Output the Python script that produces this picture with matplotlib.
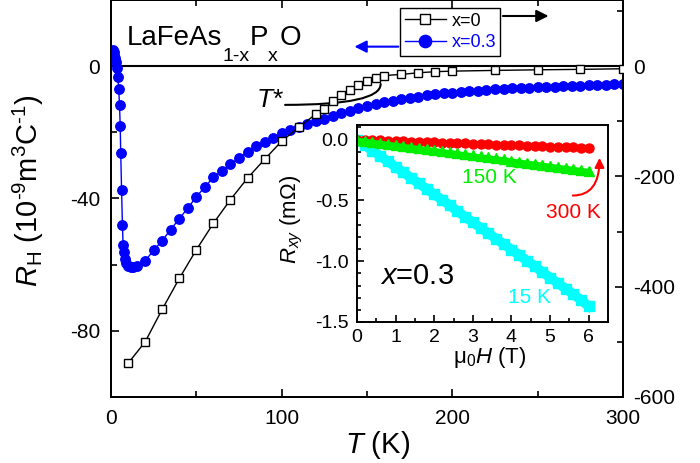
import matplotlib
matplotlib.use("Agg")
import matplotlib.pyplot as plt
from matplotlib.ticker import MultipleLocator, FormatStrFormatter

plt.rcParams['font.family'] = ['Liberation Sans', 'DejaVu Sans']
plt.rcParams['mathtext.fontset'] = 'custom'
plt.rcParams['mathtext.rm'] = 'Liberation Sans'
plt.rcParams['mathtext.it'] = 'Liberation Sans:italic'
plt.rcParams['mathtext.bf'] = 'Liberation Sans:bold'
plt.rcParams['axes.unicode_minus'] = False

# x = 0 (right axis)
T0 = [10, 20, 30, 40, 50, 60, 70, 80, 90, 100, 110, 120, 125, 130, 135, 140,
      145, 150, 155, 160, 170, 180, 190, 200, 225, 250, 275, 300]
R0 = [-539, -500, -441, -385, -333, -285, -242, -203, -169, -136, -111, -87,
      -77, -64, -53, -44, -35, -27.5, -21, -17, -15, -12, -10, -9, -7.7,
      -6.6, -5.8, -4.7]

# x = 0.3 (left axis)
T3 = [1.4, 1.6, 2.0, 2.5, 3.0, 3.5, 4.0, 4.5, 5.0, 5.4, 5.7, 6.2, 6.7, 7.1,
      7.5, 8.0, 8.8, 10.0, 11.5, 13.0, 15.0, 20, 25, 30, 35, 40, 45, 50, 55,
      60, 65, 70, 75, 80, 85, 90, 95, 100, 105, 110, 115, 120, 125, 130, 135,
      140, 145, 150, 155, 160, 165, 170, 175, 180, 185, 190, 195, 200, 205,
      210, 215, 220, 225, 230, 235, 240, 245, 250, 255, 260, 265, 270, 275,
      280, 285, 290, 295, 300]
R3 = [4.8, 4.2, 3.4, 2.4, 1.2, -0.5, -3.2, -7.0, -11.8, -18.2, -26.3, -37.5,
      -48.1, -54.0, -56.3, -58.2, -59.5, -60.4, -60.8, -60.8, -60.3, -58.8,
      -55.7, -52.7, -49.4, -46.1, -42.9, -39.5, -36.5, -33.6, -31.6, -29.7,
      -27.7, -25.8, -24.1, -22.8, -21.6, -20.3, -19.3, -18.4, -17.6, -16.7,
      -15.9, -15.0, -14.2, -13.5, -12.6, -12.0, -11.4, -10.8, -10.4, -10.0,
      -9.6, -9.2, -8.85, -8.5, -8.25, -8.0, -7.8, -7.6, -7.4, -7.2, -7.05,
      -6.9, -6.75, -6.6, -6.5, -6.4, -6.3, -6.2, -6.1, -6.0, -5.9, -5.8, -5.7,
      -5.6, -5.5, -5.4]

# inset: Rxy vs field, x = 0.3
H = [0, 0.2, 0.4, 0.6, 0.8, 1.0, 1.2, 1.4, 1.6, 1.8, 2.0, 2.2, 2.4, 2.6, 2.8,
     3.0, 3.2, 3.4, 3.6, 3.8, 4.0, 4.2, 4.4, 4.6, 4.8, 5.0, 5.2, 5.4, 5.6,
     5.8, 6.0]
Rxy_15K = [0, -0.045, -0.09, -0.135, -0.18, -0.225, -0.27, -0.315, -0.36,
           -0.405, -0.45, -0.495, -0.54, -0.59, -0.635, -0.68, -0.725, -0.77,
           -0.815, -0.86, -0.905, -0.95, -0.995, -1.04, -1.09, -1.135, -1.18,
           -1.225, -1.27, -1.32, -1.37]
Rxy_150K = [0, -0.009, -0.017, -0.026, -0.034, -0.043, -0.052, -0.06, -0.069,
            -0.077, -0.086, -0.095, -0.103, -0.112, -0.12, -0.129, -0.138,
            -0.146, -0.155, -0.163, -0.172, -0.181, -0.189, -0.198, -0.206,
            -0.215, -0.224, -0.232, -0.241, -0.249, -0.258]
Rxy_300K = [0, -0.002, -0.005, -0.007, -0.009, -0.012, -0.014, -0.016, -0.018,
            -0.021, -0.023, -0.025, -0.028, -0.03, -0.032, -0.035, -0.037,
            -0.039, -0.041, -0.044, -0.046, -0.048, -0.051, -0.053, -0.055,
            -0.058, -0.06, -0.062, -0.064, -0.067, -0.069]

fig = plt.figure(figsize=(7, 4.63), dpi=100)
ax = fig.add_axes([111/700, 66/463, 512/700, 397/463])
ax2 = ax.twinx()

ax.axhline(0, color='black', lw=1.5, zorder=1)
l3, = ax.plot(T3, R3, '-o', color='blue', lw=1, ms=6.8, mec='blue', zorder=3)
l0, = ax2.plot(T0, R0, '-s', color='black', lw=1, ms=5.8, mfc='white',
               mec='black', mew=1, zorder=3)

ax.set_xlim(0, 300)
ax.set_ylim(-100, 20)
ax2.set_ylim(-600, 120)

ax.xaxis.set_major_locator(MultipleLocator(100))
ax.xaxis.set_minor_locator(MultipleLocator(50))
ax.yaxis.set_major_locator(MultipleLocator(40))
ax.yaxis.set_minor_locator(MultipleLocator(20))
ax2.yaxis.set_major_locator(MultipleLocator(200))
ax2.yaxis.set_minor_locator(MultipleLocator(100))

ax.tick_params(which='both', direction='in', top=True, right=False,
               labelsize=15, width=1.2)
ax.tick_params(which='major', length=6)
ax.tick_params(which='minor', length=4)
ax.tick_params(axis='y', pad=8)
ax.tick_params(axis='x', pad=9)
ax2.tick_params(which='both', direction='in', labelsize=15, width=1.2, pad=7)
ax2.tick_params(which='major', length=6)
ax2.tick_params(which='minor', length=4)
for a in (ax, ax2):
    for s in a.spines.values():
        s.set_linewidth(1.4)

ax.text(0.52, -0.121, r'$T$ (K)', transform=ax.transAxes, fontsize=21,
        ha='center', va='center')
ax.text(-0.162, 0.52, r'$R_{\rm H}$ (10$^{\text{-9}}$m$^3$C$^{\text{-1}}$)',
        transform=ax.transAxes, fontsize=21, rotation=90,
        ha='center', va='center')

# formula with lowered subscripts, as in the original figure
ax.text(9, 8.5, 'LaFeAs', fontsize=20, ha='left', va='center')
ax.annotate('1-x', xy=(9, 8.5), xytext=(69, -13), textcoords='offset points',
            fontsize=14, ha='left', va='center')
ax.annotate('P', xy=(9, 8.5), xytext=(89, 0), textcoords='offset points',
            fontsize=20, ha='left', va='center')
ax.annotate('x', xy=(9, 8.5), xytext=(102, -13), textcoords='offset points',
            fontsize=14, ha='left', va='center')
ax.annotate('O', xy=(9, 8.5), xytext=(110, 0), textcoords='offset points',
            fontsize=20, ha='left', va='center')

leg = ax.legend([l0, l3], ['x=0', 'x=0.3'], loc='upper left',
                bbox_to_anchor=(400/700, 1 - 8/463),
                bbox_transform=fig.transFigure, fontsize=13,
                fancybox=False, framealpha=1, edgecolor='black',
                handlelength=2.3, handletextpad=0.3, borderpad=0.25,
                labelspacing=0.25, borderaxespad=0, markerscale=1.3)
leg.get_frame().set_linewidth(1)
leg.get_texts()[1].set_color('blue')

ax2.annotate('', xy=(258, 91), xytext=(228, 91),
             arrowprops=dict(arrowstyle='-|>', color='black', lw=1.5,
                             mutation_scale=18))
ax.annotate('', xy=(141, 5.9), xytext=(170, 5.9),
            arrowprops=dict(arrowstyle='-|>', color='blue', lw=1.5,
                            mutation_scale=18))

ax.text(93, -10.2, r'$T$*', fontsize=19, ha='center', va='center')
ax.annotate('', xy=(158, -5.4), xytext=(102, -11.7),
            arrowprops=dict(arrowstyle='-', color='black', lw=1.5,
                            connectionstyle='angle3,angleA=0,angleB=90',
                            shrinkA=0, shrinkB=0))

# inset
ins = fig.add_axes([357/700, 141/463, 251/700, 197/463])
ins.plot(H, Rxy_15K, '-s', color='cyan', lw=7, ms=6.5, mec='cyan')
ins.plot(H, Rxy_300K, '-o', color='red', lw=4, ms=6.5, mec='red')
ins.plot(H, Rxy_150K, '-^', color='#00ee00', lw=3, ms=6.5, mec='#00ee00')
ins.set_xlim(0, 6.5)
ins.set_ylim(-1.5, 0.12)
ins.xaxis.set_major_locator(MultipleLocator(1))
ins.xaxis.set_minor_locator(MultipleLocator(0.5))
ins.yaxis.set_major_locator(MultipleLocator(0.5))
ins.yaxis.set_minor_locator(MultipleLocator(0.1))
ins.yaxis.set_major_formatter(FormatStrFormatter('%.1f'))
ins.tick_params(which='both', direction='in', labelsize=14, width=1.2)
ins.tick_params(which='major', length=5)
ins.tick_params(which='minor', length=3)
ins.tick_params(axis='y', pad=6)
ins.tick_params(axis='x', pad=5)
for s in ins.spines.values():
    s.set_linewidth(1.4)

ins.text(-0.26, 0.52, r'$R_{xy}$ (m$\Omega$)', transform=ins.transAxes,
         fontsize=16, rotation=90, ha='center', va='center')
ins.text(0.53, -0.18, r'$\mathrm{\mu}_0H$ (T)', transform=ins.transAxes,
         fontsize=16, ha='center', va='center')
ins.text(1.55, -1.12, r'$x$=0.3', fontsize=21, ha='center', va='center')
ins.text(3.44, -0.31, '150 K', color='#00ee00', fontsize=15,
         ha='center', va='center')
ins.text(5.6, -0.6, '300 K', color='red', fontsize=15,
         ha='center', va='center')
ins.text(4.47, -1.30, '15 K', color='cyan', fontsize=15,
         ha='center', va='center')
ins.annotate('', xy=(6.28, -0.15), xytext=(5.59, -0.46),
             arrowprops=dict(arrowstyle='-|>', color='red', lw=1.5,
                             mutation_scale=14,
                             connectionstyle='angle3,angleA=0,angleB=90',
                             shrinkA=0, shrinkB=0))

fig.savefig('out.png', dpi=100)
